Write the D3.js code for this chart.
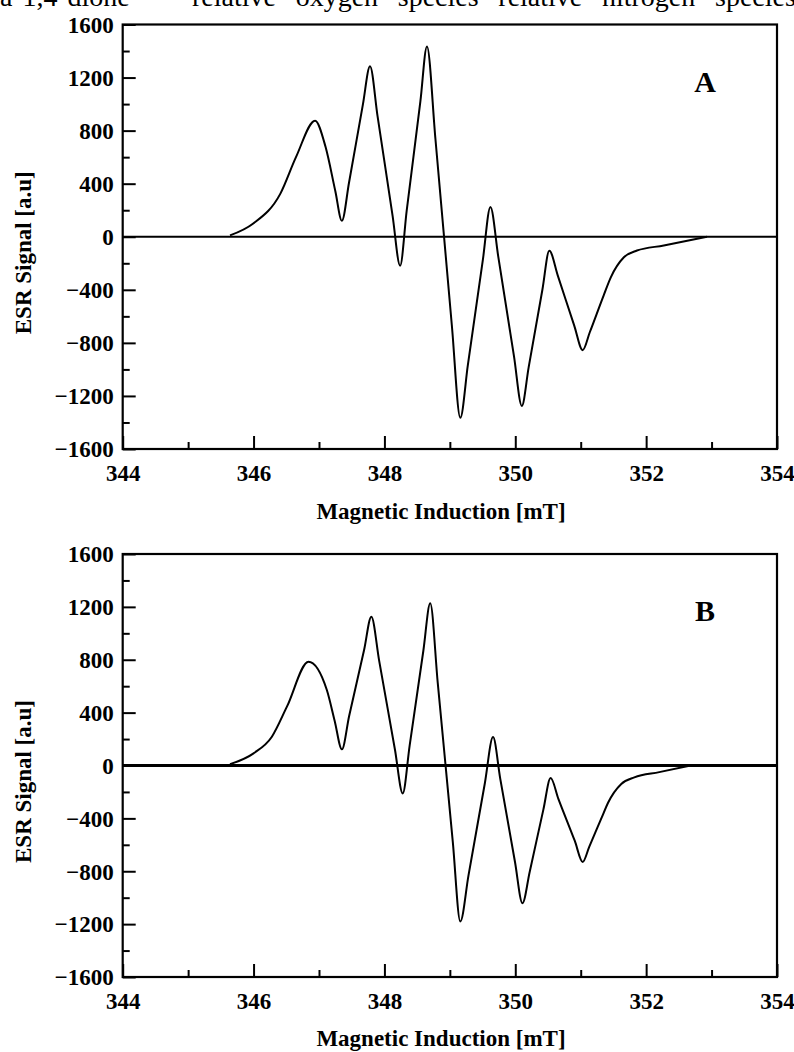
<!DOCTYPE html>
<html>
<head>
<meta charset="utf-8">
<script src="https://cdn.jsdelivr.net/npm/d3@7"></script>
<style>
  html, body { margin: 0; padding: 0; background: #fff; }
  svg { display: block; }
  text { font-family: "Liberation Serif", "Times New Roman", serif; fill: #000; }
</style>
</head>
<body>
<svg id="chart" width="794" height="1052"></svg>
<script>
// ---- data ----
const xDomain = [344, 354];
const yDomain = [-1600, 1600];
const xMajorTicks = [344, 346, 348, 350, 352, 354];
const xMinorTicks = [345, 347, 349, 351, 353];
const yMajorTicks = [-1600, -1200, -800, -400, 0, 400, 800, 1200, 1600];
const yMinorTicks = [-1400, -1000, -600, -200, 200, 600, 1000, 1400];
const xLabel = "Magnetic Induction [mT]";
const yLabel = "ESR Signal [a.u]";
const panelLabels = ["A", "B"];
const headerLeft = "a 1,4 dione";
const headerRight = "relative oxygen species relative nitrogen species";

const fieldA = [345.64, 345.99, 346.41, 346.65, 346.94, 347.10, 347.25, 347.35,
  347.46, 347.67, 347.78, 347.895, 348.125, 348.24, 348.34, 348.55, 348.65,
  348.78, 349.03, 349.16, 349.275, 349.505, 349.62, 349.74, 349.98, 350.10,
  350.205, 350.415, 350.52, 350.65, 350.90, 351.03, 351.14, 351.35, 351.46,
  351.66, 351.86, 352.27, 352.93];
const signalA = [10, 98, 325, 602, 875, 678, 343, 120,
  411, 994, 1285, 909, 158, -218, 195, 1022, 1435,
  735, -665, -1365, -968, -173, 225, -150, -900, -1275,
  -983, -398, -105, -293, -668, -855, -718, -443, -306,
  -155, -104, -66, 0];

const fieldB = [345.64, 346.00, 346.28, 346.51, 346.84, 347.12, 347.24, 347.35,
  347.46, 347.69, 347.80, 347.92, 348.16, 348.28, 348.385, 348.595, 348.70,
  348.815, 349.045, 349.16, 349.285, 349.535, 349.66, 349.77, 349.995, 350.11,
  350.22, 350.43, 350.54, 350.66, 350.91, 351.03, 351.13, 351.32, 351.42,
  351.62, 351.82, 352.20, 352.68];
const signalB = [10, 92, 218, 445, 785, 571, 337, 122,
  373, 875, 1126, 792, 123, -211, 149, 868, 1227,
  625, -578, -1180, -831, -134, 215, -99, -728, -1042,
  -805, -332, -95, -254, -571, -730, -615, -395, -280,
  -140, -90, -50, 0];

// ---- layout ----
const svg = d3.select("#chart");
const FONT = 23;

// cropped header text from the page above the figure
svg.append("text").attr("x", 0).attr("y", 6)
  .attr("font-size", 28).attr("word-spacing", 3)
  .text(headerLeft);
svg.append("text").attr("x", 192).attr("y", 6)
  .attr("font-size", 28).attr("word-spacing", 12.7)
  .text(headerRight);

const panels = [
  { field: fieldA, signal: signalA, label: panelLabels[0], top: 24.5, bottom: 449, zeroW: 2, labelY: 92, titleY: 519 },
  { field: fieldB, signal: signalB, label: panelLabels[1], top: 554, bottom: 977, zeroW: 3, labelY: 621, titleY: 1046 }
];

const left = 122.7, right = 777;
const x = d3.scaleLinear().domain(xDomain).range([left, right]);

panels.forEach(p => {
  const y = d3.scaleLinear().domain(yDomain).range([p.bottom, p.top]);
  const g = svg.append("g");

  // zero baseline
  g.append("line")
    .attr("x1", x(xDomain[0])).attr("x2", x(xDomain[1]))
    .attr("y1", y(0)).attr("y2", y(0))
    .attr("stroke", "#000").attr("stroke-width", p.zeroW);

  // curve
  const pts = p.field.map((f, i) => [f, p.signal[i]]);
  const line = d3.line().x(d => x(d[0])).y(d => y(d[1])).curve(d3.curveMonotoneX);
  g.append("path").datum(pts)
    .attr("d", line)
    .attr("fill", "none").attr("stroke", "#000").attr("stroke-width", 2)
    .attr("stroke-linejoin", "round");

  // frame
  g.append("rect")
    .attr("x", x(xDomain[0])).attr("y", y(yDomain[1]))
    .attr("width", x(xDomain[1]) - x(xDomain[0]))
    .attr("height", y(yDomain[0]) - y(yDomain[1]))
    .attr("fill", "none").attr("stroke", "#000").attr("stroke-width", 2.2);

  // x axis major
  const xAx = g.append("g").attr("transform", `translate(0,${p.bottom})`)
    .call(d3.axisBottom(x).tickValues(xMajorTicks).tickSize(-13).tickPadding(8).tickFormat(d3.format("d")));
  xAx.select(".domain").remove();
  xAx.selectAll("line").attr("stroke-width", 2);
  xAx.selectAll("text").attr("font-size", FONT).attr("font-weight", "bold")
    .attr("font-family", "Liberation Serif, serif").attr("dy", "1.05em");
  const xMin = g.append("g").attr("transform", `translate(0,${p.bottom})`)
    .call(d3.axisBottom(x).tickValues(xMinorTicks).tickSize(-7).tickFormat(""));
  xMin.select(".domain").remove();
  xMin.selectAll("line").attr("stroke-width", 2);

  // y axis major
  const yAx = g.append("g").attr("transform", `translate(${left},0)`)
    .call(d3.axisLeft(y).tickValues(yMajorTicks).tickSize(-13).tickPadding(9)
      .tickFormat(d => d < 0 ? "\u2212" + Math.abs(d) : String(d)));
  yAx.select(".domain").remove();
  yAx.selectAll("line").attr("stroke-width", 2);
  yAx.selectAll("text").attr("font-size", FONT).attr("font-weight", "bold")
    .attr("font-family", "Liberation Serif, serif").attr("dy", "0.34em");
  const yMin = g.append("g").attr("transform", `translate(${left},0)`)
    .call(d3.axisLeft(y).tickValues(yMinorTicks).tickSize(-7).tickFormat(""));
  yMin.select(".domain").remove();
  yMin.selectAll("line").attr("stroke-width", 2);

  // titles
  g.append("text").attr("x", 441).attr("y", p.titleY)
    .attr("text-anchor", "middle").attr("font-size", FONT).attr("font-weight", "bold")
    .text(xLabel);
  const cy = (p.top + p.bottom) / 2 + 16;
  g.append("text").attr("transform", `translate(31,${cy}) rotate(-90)`)
    .attr("text-anchor", "middle").attr("font-size", FONT).attr("font-weight", "bold")
    .text(yLabel);

  // panel letter
  g.append("text").attr("x", 705).attr("y", p.labelY)
    .attr("text-anchor", "middle").attr("font-size", 30).attr("font-weight", "bold")
    .text(p.label);
});
</script>
</body>
</html>
